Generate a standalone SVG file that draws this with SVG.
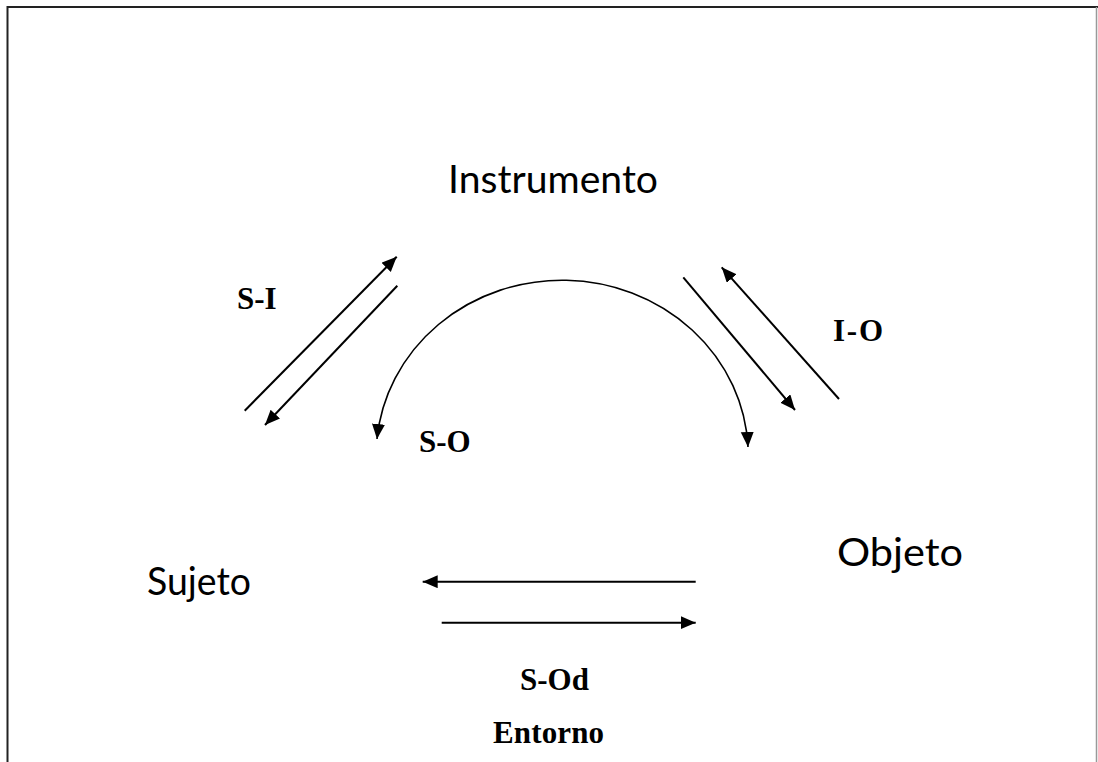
<svg xmlns="http://www.w3.org/2000/svg" width="1098" height="762" viewBox="0 0 1098 762">
  <style>
    .node { font-family: Lato, "Open Sans", "Liberation Sans", sans-serif; font-size: 39px; fill: #000; }
    .lbl { font-family: "Liberation Serif", "Times New Roman", serif; font-weight: bold; font-size: 31px; fill: #000; }
    .conn { fill: none; stroke: #000; stroke-width: 2; }
    .arc { fill: none; stroke: #000; stroke-width: 1.6; }
  </style>
  <defs>
    <marker id="ah" markerUnits="userSpaceOnUse" markerWidth="16" markerHeight="14" refX="15" refY="6.5" orient="auto-start-reverse" viewBox="0 0 16 14">
      <path d="M0,0 L15,6.5 L0,13 z" fill="#000"/>
    </marker>
  </defs>
  <rect width="1098" height="762" fill="#fff"/>
  <g id="frame">
    <line x1="7" y1="7" x2="1098" y2="7" stroke="#222" stroke-width="2"/>
    <line x1="7.5" y1="6" x2="7.5" y2="762" stroke="#222" stroke-width="2"/>
    <line x1="1096.5" y1="7" x2="1096.5" y2="762" stroke="#999" stroke-width="1.5"/>
  </g>
  <g id="instrumento"><text class="node" x="448" y="193" textLength="210" lengthAdjust="spacingAndGlyphs">Instrumento</text></g>
  <g id="sujeto"><text class="node" x="147" y="595" textLength="104" lengthAdjust="spacingAndGlyphs">Sujeto</text></g>
  <g id="objeto"><text class="node" x="837" y="566" textLength="126" lengthAdjust="spacingAndGlyphs">Objeto</text></g>
  <g id="connectors">
    <path class="conn" d="M244.7 410.7 L396.7 256.7" marker-end="url(#ah)"/>
    <path class="conn" d="M397.3 285.7 L265 425" marker-end="url(#ah)"/>
    <path class="conn" d="M683.3 277.3 L795 410" marker-end="url(#ah)"/>
    <path class="conn" d="M839 399 L721.7 267.3" marker-end="url(#ah)"/>
    <path class="conn" d="M695.7 581.7 L422.7 581.7" marker-end="url(#ah)"/>
    <path class="conn" d="M441.7 622.7 L695.7 622.7" marker-end="url(#ah)"/>
    <path class="arc" d="M377 439 A186 175 0 0 1 748 447" marker-start="url(#ah)" marker-end="url(#ah)"/>
  </g>
  <g id="labels">
    <text class="lbl" x="237" y="309">S-I</text>
    <text class="lbl" x="833" y="341" textLength="50">I-O</text>
    <text class="lbl" x="419" y="451.5">S-O</text>
    <text class="lbl" x="520" y="690" font-size="32">S-Od</text>
    <text class="lbl" x="493" y="742.5" textLength="111">Entorno</text>
  </g>
</svg>
